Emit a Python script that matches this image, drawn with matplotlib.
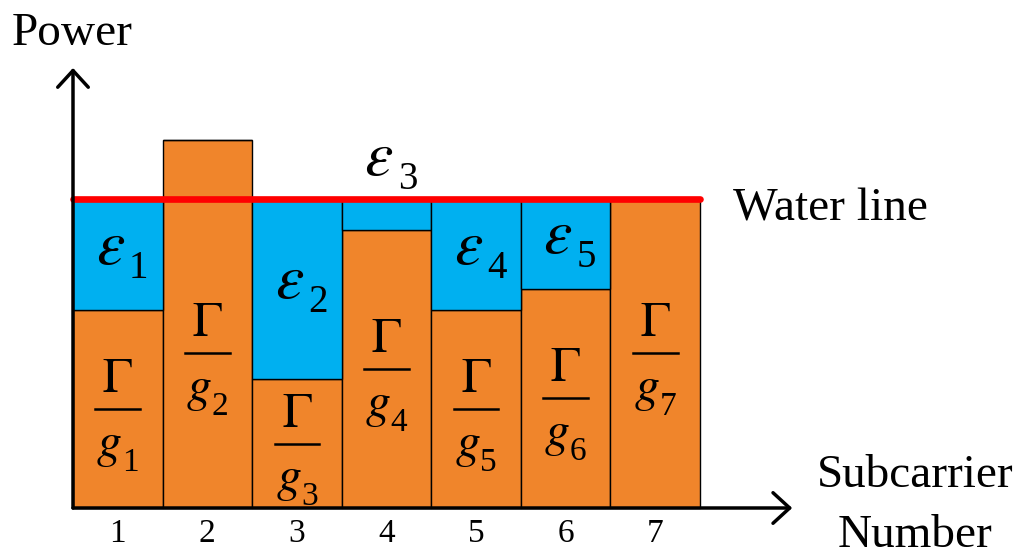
import matplotlib
matplotlib.use("Agg")
import matplotlib.pyplot as plt

plt.rcParams["font.family"] = ["Liberation Serif", "DejaVu Serif"]
plt.rcParams["mathtext.fontset"] = "stix"

# subcarriers and their noise floors Gamma/g_i, plus the water level
subcarriers = [1, 2, 3, 4, 5, 6, 7]
floor_levels = [6.41, 11.91, 4.17, 9.0, 6.41, 7.09, 10.0]
water_level = 10.0
tick_labels = ["1", "2", "3", "4", "5", "6", "7"]
# which epsilon index goes with each filled subcarrier (None = no water)
eps_index = [1, None, 2, 3, 4, 5, None]

orange = "#F0852B"
blue = "#00B0F0"

fig = plt.figure(figsize=(10.33, 5.57), dpi=100)
ax = fig.add_axes([0, 0, 1, 1])
ax.set_xlim(-0.315, 11.218)
ax.set_ylim(-1.586, 16.44)
ax.axis("off")


def sub_label(x, y, main, sub, size, sub_size, dx_main, dx_sub, dy_sub):
    """symbol with a separate, larger-than-usual subscript"""
    ax.annotate(main, xy=(x, y), xytext=(dx_main, 0), textcoords="offset points",
                fontsize=size, ha="right", va="baseline", zorder=3)
    ax.annotate(sub, xy=(x, y), xytext=(dx_sub, dy_sub), textcoords="offset points",
                fontsize=sub_size, ha="left", va="baseline", zorder=3)


# floors (orange) and poured water (blue)
water = [max(water_level - h, 0) for h in floor_levels]
ax.bar(subcarriers, floor_levels, width=1.0, color=orange,
       edgecolor="black", linewidth=1.0, zorder=2)
ax.bar(subcarriers, water, width=1.0, bottom=floor_levels, color=blue,
       edgecolor="black", linewidth=1.0, zorder=2)

# water line
ax.plot([subcarriers[0] - 0.5, subcarriers[-1] + 0.5], [water_level, water_level],
        color="red", lw=4.8, solid_capstyle="round", zorder=4)
ax.text(7.87, 9.29, "Water line", fontsize=34, ha="left", va="baseline")

# axes with arrow heads
arrow = dict(arrowstyle="->,head_length=0.6,head_width=0.55", lw=2.5,
             color="black", mutation_scale=20, shrinkA=0, shrinkB=0)
ax.annotate("", xy=(0.5, 14.24), xytext=(0.5, 0), arrowprops=arrow, zorder=5)
ax.annotate("", xy=(8.53, 0), xytext=(0.5, 0), arrowprops=arrow, zorder=5)
ax.text(-0.181, 14.98, "Power", fontsize=34, ha="left", va="baseline")
ax.text(9.9, 0.68, "Subcarrier", fontsize=34, ha="center", va="baseline")
ax.text(9.9, -1.26, "Number", fontsize=34, ha="center", va="baseline")

for x, lab in zip(subcarriers, tick_labels):
    ax.text(x, -1.10, lab, fontsize=24, ha="center", va="baseline")

# Gamma / g_i labels in each floor
for x, h in zip(subcarriers, floor_levels):
    mid = min(h, water_level) / 2
    ax.plot([x - 0.25, x + 0.25], [mid, mid], color="black", lw=1.8, zorder=3)
    ax.text(x, mid + 0.55, r"$\Gamma$", fontsize=36, ha="center",
            va="baseline", zorder=3)
    sub_label(x, mid - 1.55, r"$g$", str(x), 36, 24, 3, 3, -10)

# epsilon labels in the water
for x, h, w, k in zip(subcarriers, floor_levels, water, eps_index):
    if k is None:
        continue
    if w < 1.5:
        y = water_level + 0.78
    else:
        y = h + w / 2 - 0.3
    sub_label(x, y, r"$\varepsilon$", str(k), 46, 28, 5, 8, -10)

fig.savefig("out.png", dpi=100)
